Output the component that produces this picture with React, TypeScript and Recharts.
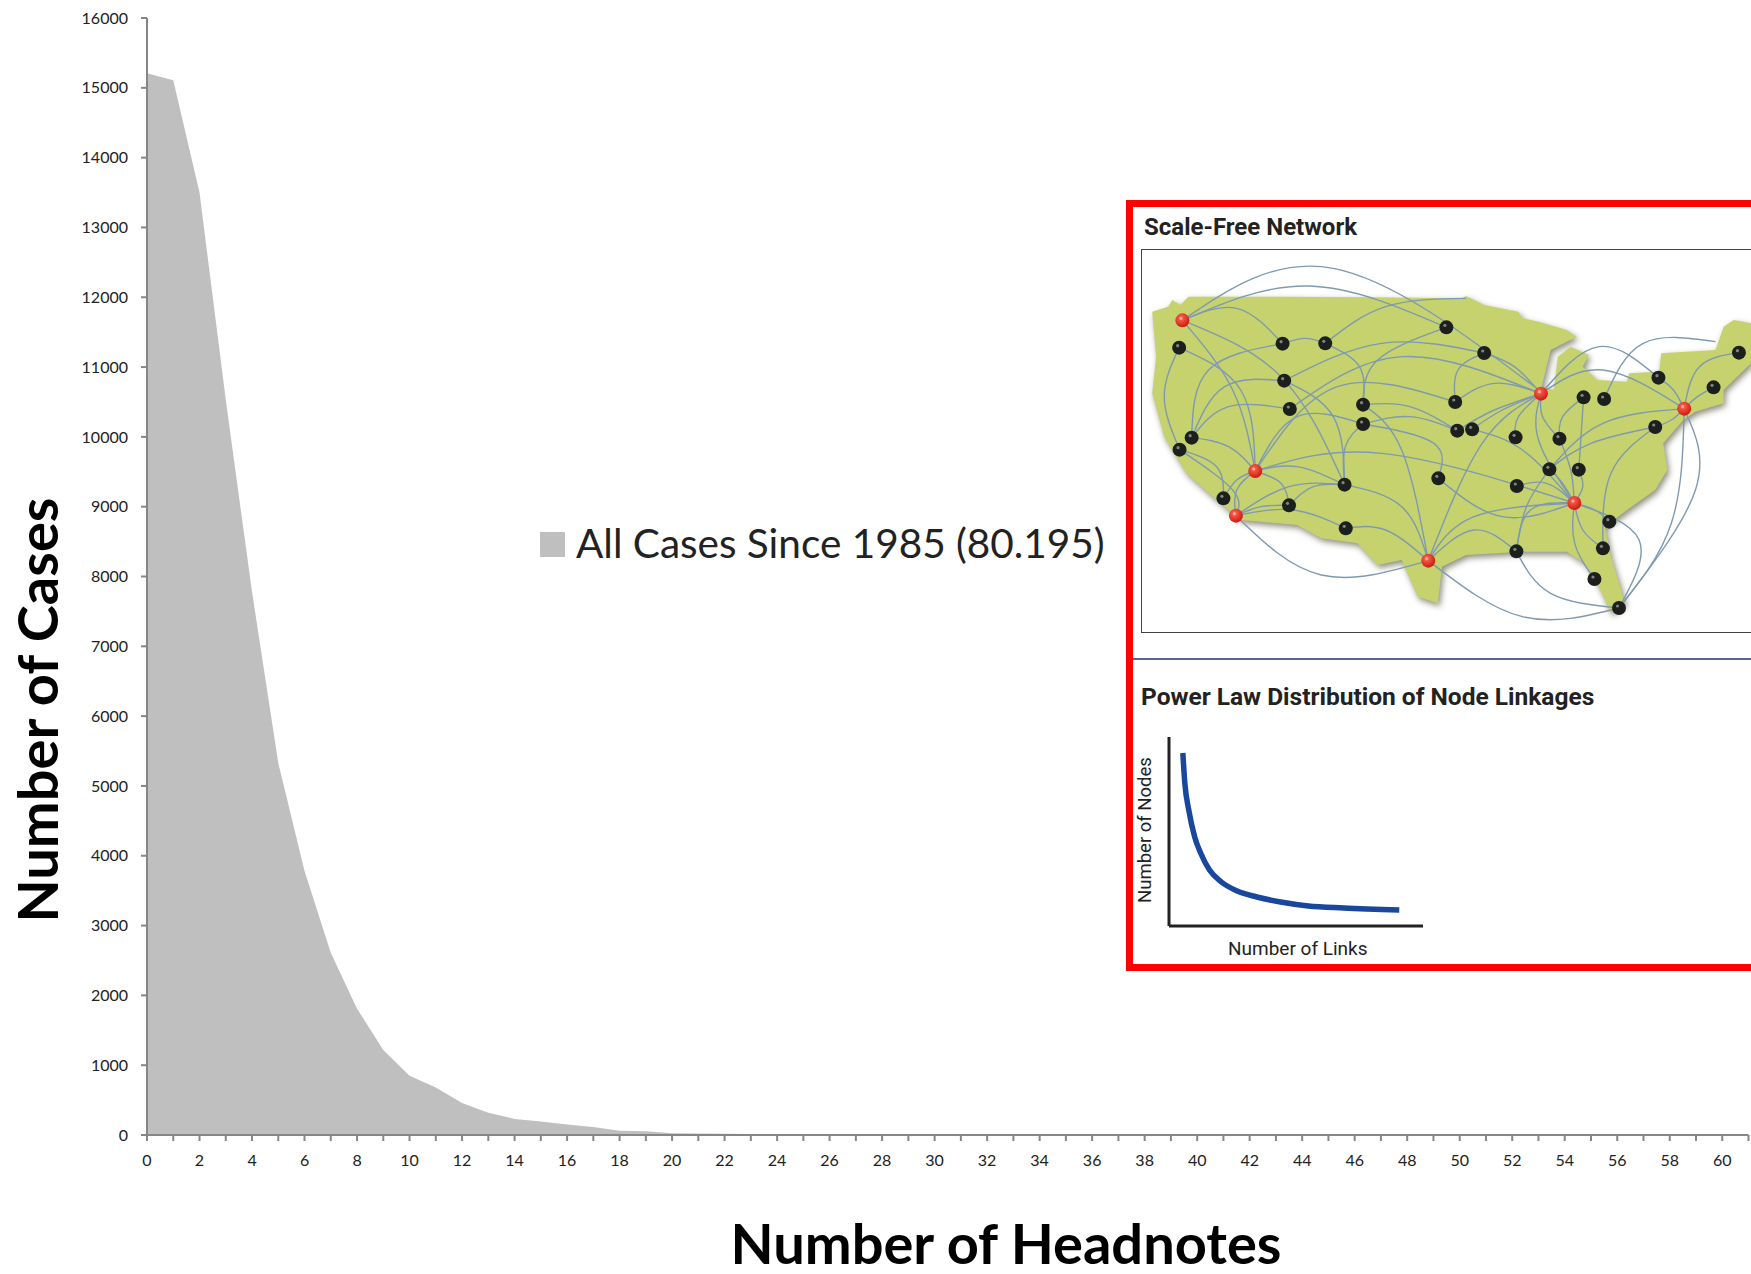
import React from "react";
import {
  Area,
  AreaChart,
  Legend,
  Line,
  LineChart,
  Scatter,
  ScatterChart,
  XAxis,
  YAxis,
} from "recharts";

const headnotes = [
  0, 1, 2, 3, 4, 5, 6, 7, 8, 9, 10, 11, 12, 13, 14, 15, 16, 17, 18, 19, 20, 21,
  22, 23, 24, 25, 26, 27, 28, 29, 30, 31, 32, 33, 34, 35, 36, 37, 38, 39, 40,
  41, 42, 43, 44, 45, 46, 47, 48, 49, 50, 51, 52, 53, 54, 55, 56, 57, 58, 59,
  60, 61,
];
const cases = [
  15210, 15110, 13500, 10530, 7780, 5330, 3780, 2610, 1810, 1216, 850, 680, 460,
  320, 230, 195, 150, 115, 60, 55, 25, 20, 18, 15, 8, 6, 5, 5, 4, 4, 3, 3, 3, 2,
  2, 2, 2, 2, 1, 1, 1, 1, 1, 1, 1, 1, 1, 1, 1, 1, 1, 1, 1, 1, 1, 1, 0, 0, 0, 0,
  0, 0,
];
const yTicks = [
  0, 1000, 2000, 3000, 4000, 5000, 6000, 7000, 8000, 9000, 10000, 11000, 12000,
  13000, 14000, 15000, 16000,
];
const seriesName = "All Cases Since 1985 (80.195)";

// the inset is a redrawn illustration, all in map units
const landOutline = [
  [80, 365], [120, 350], [130, 330], [150, 345], [170, 320], [400, 320], [620, 322],
  [850, 325], [860, 318], [905, 345], [990, 365], [1000, 385], [1040, 395], [1110, 420],
  [1135, 440], [1070, 480], [1048, 590], [1078, 600], [1088, 500], [1120, 470], [1165, 495],
  [1150, 530], [1185, 570], [1260, 575],
  [1265, 550], [1340, 545], [1345, 490], [1480, 480], [1500, 410], [1525, 390], [1568, 400],
  [1568, 520], [1500, 600], [1500, 640], [1430, 665], [1400, 690], [1350, 760], [1360, 840],
  [1330, 900], [1260, 960], [1205, 1010], [1220, 1100], [1255, 1240], [1220, 1270],
  [1190, 1190], [1155, 1120], [1110, 1085], [1000, 1085], [860, 1095], [800, 1130],
  [790, 1240], [740, 1220], [700, 1110], [640, 1125], [590, 1060], [500, 1045], [440, 1005],
  [300, 990], [240, 930], [165, 850], [110, 740], [80, 610], [90, 500], [80, 365],
];
const blackNodes = [
  [147, 473], [404, 461], [510, 460], [811, 412], [905, 489], [408, 572], [422, 657],
  [604, 644], [604, 702], [833, 636], [838, 722], [875, 718], [983, 742], [1092, 746],
  [1152, 622], [1203, 627], [1338, 563], [1475, 592], [1538, 488], [1330, 711], [178, 743],
  [148, 779], [558, 884], [791, 865], [1067, 838], [1140, 839], [986, 888], [257, 925],
  [420, 946], [561, 1015], [1216, 995], [1200, 1075], [985, 1084], [1179, 1167], [1240, 1254],
];
const redNodes = [
  [155, 391], [1046, 611], [1402, 656], [336, 843], [288, 977], [1129, 939], [766, 1112],
];
const links = [
  [155, 391, 530, 235, 1030, 590], [155, 391, 470, 288, 811, 412], [155, 391, 290, 355, 404, 461],
  [155, 391, 280, 600, 336, 843], [155, 391, 400, 560, 558, 884], [147, 473, 110, 620, 148, 779],
  [147, 473, 300, 600, 336, 843], [404, 461, 220, 540, 178, 743], [404, 461, 460, 445, 510, 460],
  [510, 460, 660, 350, 860, 325], [510, 460, 595, 530, 604, 644], [408, 572, 650, 460, 905, 489],
  [408, 572, 260, 590, 178, 743], [422, 657, 270, 650, 178, 743], [422, 657, 700, 500, 1046, 611],
  [811, 412, 640, 510, 604, 644], [905, 489, 840, 540, 833, 636], [905, 489, 980, 530, 1046, 611],
  [833, 636, 930, 580, 1046, 611], [604, 644, 720, 650, 838, 722], [604, 702, 720, 680, 838, 722],
  [336, 843, 540, 590, 833, 636], [336, 843, 440, 680, 604, 702], [408, 572, 530, 680, 558, 884],
  [604, 702, 560, 770, 558, 884], [604, 644, 700, 780, 766, 1112], [604, 702, 780, 760, 791, 865],
  [558, 884, 700, 950, 766, 1112], [336, 843, 650, 790, 1129, 939], [336, 843, 440, 830, 558, 884],
  [288, 977, 420, 890, 558, 884], [288, 977, 350, 950, 420, 946], [288, 977, 430, 960, 561, 1015],
  [420, 946, 480, 890, 558, 884], [336, 843, 400, 880, 420, 946], [288, 977, 290, 900, 336, 843],
  [257, 925, 290, 870, 336, 843], [178, 743, 270, 770, 336, 843], [148, 779, 240, 830, 257, 925],
  [148, 779, 280, 900, 288, 977], [288, 977, 500, 1155, 766, 1112], [561, 1015, 660, 1020, 766, 1112],
  [766, 1112, 900, 760, 1046, 611], [766, 1112, 880, 980, 1129, 939], [766, 1112, 880, 1020, 985, 1084],
  [766, 1112, 1000, 1280, 1240, 1254], [985, 1084, 1010, 950, 1067, 838], [985, 1084, 1070, 1210, 1240, 1254],
  [985, 1084, 1020, 960, 1129, 939], [791, 865, 950, 980, 1129, 939], [838, 722, 930, 660, 1046, 611],
  [875, 718, 950, 660, 1046, 611], [875, 718, 1000, 780, 1129, 939], [983, 742, 990, 680, 1046, 611],
  [1046, 611, 1040, 750, 1129, 939], [1092, 746, 1050, 680, 1046, 611], [1092, 746, 1120, 840, 1129, 939],
  [1152, 622, 1100, 680, 1092, 746], [1152, 622, 1145, 750, 1140, 839], [1046, 611, 1190, 470, 1338, 563],
  [1203, 627, 1300, 460, 1480, 455], [1046, 611, 1200, 540, 1402, 656], [1338, 563, 1375, 600, 1402, 656],
  [1538, 488, 1440, 530, 1402, 656], [1475, 592, 1435, 620, 1402, 656], [1330, 711, 1370, 690, 1402, 656],
  [1402, 656, 1200, 700, 1067, 838], [1330, 711, 1170, 760, 1067, 838], [1330, 711, 1220, 850, 1200, 1075],
  [1402, 656, 1430, 900, 1240, 1254], [1402, 656, 1370, 1000, 1240, 1254], [1129, 939, 1290, 1050, 1240, 1254],
  [1129, 939, 1180, 960, 1216, 995], [1129, 939, 1150, 1020, 1200, 1075], [1129, 939, 1130, 1060, 1179, 1167],
  [1067, 838, 1100, 880, 1129, 939], [1140, 839, 1150, 890, 1129, 939], [986, 888, 1060, 880, 1129, 939],
];

// small power law sketch, read in picture pixels
const curveLinks = [1182, 1184, 1188, 1194, 1200, 1209, 1221, 1237, 1257, 1281, 1309, 1345, 1401];
const curveNodes = [173, 143, 116, 89, 73, 56, 44, 35, 29, 24, 20, 18, 16];

const chartData = headnotes.map((h, i) => ({ h, cases: cases[i] }));
const curveData = curveLinks.map((x, i) => ({ x, y: curveNodes[i] }));
const toPoints = (pts: number[][]) => pts.map(([x, y]) => ({ x, y }));

const FONT = "Lato, Carlito, sans-serif";
const INSET_FONT = "Roboto, sans-serif";
const AXIS_GREY = "#868686";

const noDot = () => <g />;

const Node = ({ cx, cy, fill }: any) => (
  <g>
    <circle cx={cx} cy={cy} r={7} fill={fill} />
    <circle cx={cx - 1.5} cy={cy - 2} r={1.6} fill="#ffffff" opacity={0.45} />
  </g>
);

const boxText = (
  text: string,
  left: number,
  top: number,
  size: number,
  weight: number,
  extra: React.CSSProperties = {}
) => (
  <div
    style={{
      position: "absolute",
      left,
      top,
      fontFamily: INSET_FONT,
      fontSize: size,
      fontWeight: weight,
      color: "#222",
      lineHeight: 1,
      whiteSpace: "nowrap",
      ...extra,
    }}
  >
    {text}
  </div>
);

const MainChart = () => (
  <AreaChart
    width={1751}
    height={1274}
    data={chartData}
    margin={{ top: 18, right: 2.5, bottom: 0, left: 0 }}
  >
    <XAxis
      dataKey="h"
      type="number"
      domain={[0, 61]}
      ticks={headnotes}
      interval={0}
      height={139}
      tickFormatter={(v) => (v % 2 === 0 ? String(v) : "")}
      tick={{ fontFamily: FONT, fontSize: 16, fill: "#222" }}
      tickSize={6}
      tickMargin={14}
      stroke={AXIS_GREY}
      strokeWidth={2}
    />
    <YAxis
      domain={[0, 16000]}
      ticks={yTicks}
      interval={0}
      width={147}
      tick={{ fontFamily: FONT, fontSize: 16, fill: "#222" }}
      tickSize={6}
      tickMargin={13}
      stroke={AXIS_GREY}
      strokeWidth={2}
    />
    <Legend
      iconType="square"
      iconSize={25}
      layout="horizontal"
      verticalAlign="middle"
      wrapperStyle={{ position: "absolute", left: 540, top: 508, width: "auto", bottom: "auto" }}
      formatter={(v) => (
        <span style={{ fontFamily: FONT, fontSize: 40.5, color: "#222", marginLeft: 7, position: "relative", top: 10 }}>
          {v}
        </span>
      )}
    />
    <Area
      dataKey="cases"
      name={seriesName}
      type="linear"
      fill="#bfbfbf"
      fillOpacity={1}
      stroke="none"
      isAnimationActive={false}
    />
  </AreaChart>
);

const MapChart = () => (
  <ScatterChart width={631} height={470} margin={{ top: 0, right: 0, bottom: 0, left: 0 }}>
    <defs>
      <radialGradient id="redNode" cx="40%" cy="35%" r="70%">
        <stop offset="0%" stopColor="#ff6a50" />
        <stop offset="100%" stopColor="#c8140f" />
      </radialGradient>
    </defs>
    <XAxis dataKey="x" type="number" domain={[0, 1568]} hide />
    <YAxis dataKey="y" type="number" domain={[0, 1410]} reversed hide />
    <Scatter
      data={toPoints(landOutline)}
      shape={noDot}
      line={{ fill: "#c6d26e", stroke: "none", style: { filter: "drop-shadow(2px 3px 3px #8a8a7a)" } }}
      lineJointType="linear"
      isAnimationActive={false}
    />
    {links.map((l, i) => (
      <Scatter
        key={i}
        data={toPoints([
          [l[0], l[1]],
          [l[2], l[3]],
          [l[4], l[5]],
        ])}
        shape={noDot}
        line={{ stroke: "#7f9ab0", strokeWidth: 1.4 }}
        lineJointType="natural"
        isAnimationActive={false}
      />
    ))}
    <Scatter
      data={toPoints(blackNodes)}
      fill="#1c1f1c"
      shape={Node}
      isAnimationActive={false}
    />
    <Scatter
      data={toPoints(redNodes)}
      fill="url(#redNode)"
      shape={Node}
      isAnimationActive={false}
    />
  </ScatterChart>
);

const PowerLawChart = () => (
  <LineChart
    width={259}
    height={194}
    data={curveData}
    margin={{ top: 2, right: 2, bottom: 2, left: 2 }}
  >
    <XAxis
      dataKey="x"
      type="number"
      domain={[1168, 1425]}
      tick={false}
      tickLine={false}
      stroke="#222"
      strokeWidth={3}
      height={1}
    />
    <YAxis
      dataKey="y"
      type="number"
      domain={[0, 189]}
      tick={false}
      tickLine={false}
      stroke="#222"
      strokeWidth={3}
      width={1}
    />
    <Line
      dataKey="y"
      type="monotone"
      stroke="#1a479e"
      strokeWidth={5.5}
      dot={false}
      isAnimationActive={false}
    />
  </LineChart>
);

export default function App() {
  return (
    <div
      style={{
        position: "absolute",
        left: 0,
        top: 0,
        width: 1751,
        height: 1274,
        overflow: "hidden",
        background: "#fff",
      }}
    >
      <MainChart />

      {/* axis titles */}
      <div
        style={{
          position: "absolute",
          left: 37,
          top: 710,
          transform: "translate(-50%, -50%) rotate(-90deg)",
          fontFamily: FONT,
          fontWeight: 700,
          fontSize: 56,
          lineHeight: 1,
          color: "#000",
          whiteSpace: "nowrap",
        }}
      >
        Number of Cases
      </div>
      <div
        style={{
          position: "absolute",
          left: 1006,
          top: 1243,
          transform: "translate(-50%, -50%)",
          fontFamily: FONT,
          fontWeight: 700,
          fontSize: 56,
          lineHeight: 1,
          color: "#000",
          whiteSpace: "nowrap",
        }}
      >
        Number of Headnotes
      </div>

      {/* inset frame */}
      <div
        style={{
          position: "absolute",
          left: 1126,
          top: 200,
          width: 640,
          height: 757,
          border: "7.5px solid #ff0000",
        }}
      />
      <div
        style={{
          position: "absolute",
          left: 1141,
          top: 249,
          width: 640,
          height: 382,
          border: "1.5px solid #444",
        }}
      />
      <div style={{ position: "absolute", left: 1133, top: 658, width: 618, height: 2, background: "#5a6490" }} />
      {boxText("Scale-Free Network", 1144, 215, 24, 700)}
      {boxText("Power Law Distribution of Node Linkages", 1141, 685, 24.5, 700)}
      {boxText("Number of Links", 1228, 939, 19, 400)}
      {boxText("Number of Nodes", 1145, 830, 18.5, 400, {
        transform: "translate(-50%, -50%) rotate(-90deg)",
        left: 1145,
      })}

      <div style={{ position: "absolute", left: 1120, top: 190 }}>
        <MapChart />
      </div>
      <div style={{ position: "absolute", left: 1166, top: 735 }}>
        <PowerLawChart />
      </div>
    </div>
  );
}
